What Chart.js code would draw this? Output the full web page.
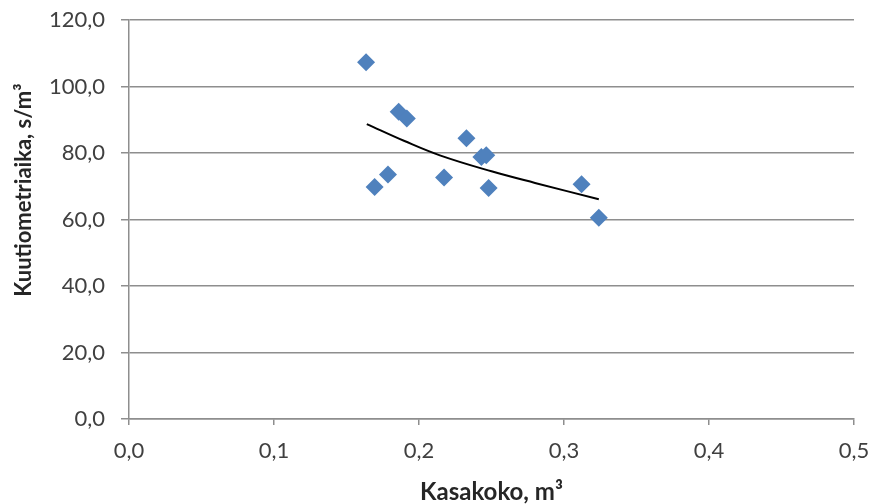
<!DOCTYPE html>
<html lang="fi">
<head>
<meta charset="UTF-8">
<title>Kuutiometriaika</title>
<script src="https://cdn.jsdelivr.net/npm/chart.js"></script>
<style>
  body { margin: 0; background: #fff; }
  #kaavio { display: block; }
</style>
</head>
<body>
<canvas id="kaavio" width="873" height="504"></canvas>
<script>
// mitatut pisteet (luettu kuvasta)
const kasakoko = [0.1635, 0.186, 0.1916, 0.2327, 0.243, 0.2464, 0.1694, 0.1786, 0.2173, 0.248, 0.3121, 0.324];
const aika = [107.3, 92.4, 90.4, 84.4, 78.8, 79.3, 69.8, 73.5, 72.6, 69.5, 70.6, 60.5];

// trendiviiva, arvioitu kuvasta
const trendiX = [0.164, 0.19, 0.2144, 0.25, 0.28, 0.324];
const trendiY = [88.7, 83.6, 79.3, 74.5, 71.0, 66.1];

const xTicks = [0, 0.1, 0.2, 0.3, 0.4, 0.5];
const yTicks = [0, 20, 40, 60, 80, 100, 120];

const pilkku = v => v.toFixed(1).replace('.', ',');

const pisteet = kasakoko.map((x, i) => ({ x: x, y: aika[i] }));
const trendi = trendiX.map((x, i) => ({ x: x, y: trendiY[i] }));

const fontti = 'Lato, "Open Sans", sans-serif';

new Chart(document.getElementById('kaavio'), {
    type: 'scatter',
    data: {
        datasets: [
            {
                label: 'Trendi',
                data: trendi,
                showLine: true,
                borderColor: '#000000',
                borderWidth: 2,
                pointRadius: 0,
                tension: 0.4,
                order: 2
            },
            {
                label: 'Kuutiometriaika',
                data: pisteet,
                pointStyle: 'rectRot',
                pointRadius: 9,
                pointBackgroundColor: '#4F81BD',
                pointBorderColor: '#4F81BD',
                borderWidth: 0,
                order: 1
            }
        ]
    },
    options: {
        responsive: false,
        animation: false,
        layout: { padding: { left: 0, top: 20, right: 19, bottom: 0 } },
        plugins: {
            legend: { display: false },
            tooltip: { enabled: false }
        },
        scales: {
            x: {
                type: 'linear',
                min: 0,
                max: 0.5,
                afterBuildTicks: s => { s.ticks = xTicks.map(v => ({ value: v })); },
                afterFit: s => {
                    s.height = 85;
                    s.paddingLeft = 0;
                    s.paddingRight = 0;
                },
                grid: {
                    display: true,
                    drawOnChartArea: false,
                    drawTicks: true,
                    tickLength: 6,
                    color: '#8e8e8e',
                    lineWidth: 1.5
                },
                border: { color: '#8e8e8e', width: 1.5 },
                ticks: {
                    callback: v => pilkku(v),
                    color: '#404040',
                    font: { family: fontti, size: 22 },
                    padding: 13,
                    maxRotation: 0
                },
                title: {
                    display: true,
                    text: 'Kasakoko, m³',
                    color: '#262626',
                    font: { family: fontti, size: 24, weight: 'bold', lineHeight: 1 },
                    padding: { top: 0, bottom: 0 }
                }
            },
            y: {
                type: 'linear',
                min: 0,
                max: 120,
                afterBuildTicks: s => { s.ticks = yTicks.map(v => ({ value: v })); },
                afterFit: s => {
                    s.width = 129;
                    s.paddingTop = 0;
                    s.paddingBottom = 0;
                },
                grid: {
                    color: '#8e8e8e',
                    lineWidth: 1.5,
                    tickLength: 8
                },
                border: { color: '#8e8e8e', width: 1.5 },
                ticks: {
                    callback: v => pilkku(v),
                    color: '#404040',
                    font: { family: fontti, size: 22 },
                    padding: 16
                },
                title: {
                    display: true,
                    // välilyönnit siirtävät otsikkoa hieman ylöspäin
                    text: '\u00a0'.repeat(11) + 'Kuutiometriaika, s/m³',
                    color: '#262626',
                    font: { family: fontti, size: 22, weight: 'bold', lineHeight: 1 },
                    padding: { top: 13, bottom: 0 }
                }
            }
        }
    }
});
</script>
</body>
</html>
